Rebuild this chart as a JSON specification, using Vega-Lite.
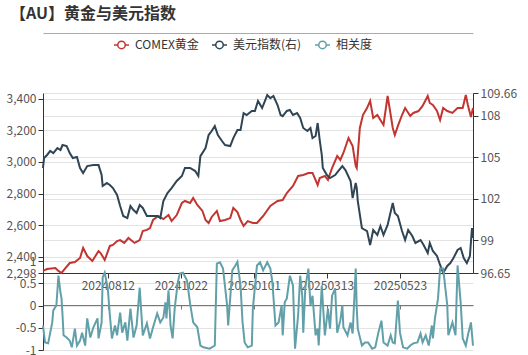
{
 "$schema": "https://vega.github.io/schema/vega-lite/v6.json",
 "autosize": "none",
 "width": 430,
 "height": 257,
 "padding": {"left": 43, "top": 93, "right": 55, "bottom": 5},
 "background": "white",
 "config": {"font": "Noto Sans CJK SC", "view": {"stroke": null}},
 "title": {"text": "【AU】黄金与美元指数", "anchor": "start", "frame": "group", "dx": -33, "offset": 11, "fontSize": 16, "fontWeight": "bold", "color": "#333", "font": "Noto Sans CJK SC"},
 "datasets": {
  "gold": [
   {"d":"2024-06-10","v":2311},{"d":"2024-06-14","v":2323},{"d":"2024-06-22","v":2330},{"d":"2024-06-25","v":2311},{"d":"2024-06-28","v":2298},{"d":"2024-07-02","v":2330},{"d":"2024-07-06","v":2361},{"d":"2024-07-11","v":2367},{"d":"2024-07-16","v":2393},{"d":"2024-07-19","v":2456},{"d":"2024-07-23","v":2405},{"d":"2024-07-28","v":2374},{"d":"2024-08-03","v":2437},{"d":"2024-08-05","v":2424},{"d":"2024-08-09","v":2380},{"d":"2024-08-14","v":2469},{"d":"2024-08-17","v":2475},{"d":"2024-08-21","v":2500},{"d":"2024-08-24","v":2506},{"d":"2024-08-28","v":2488},{"d":"2024-09-01","v":2519},{"d":"2024-09-07","v":2488},{"d":"2024-09-12","v":2506},{"d":"2024-09-15","v":2563},{"d":"2024-09-19","v":2570},{"d":"2024-09-22","v":2582},{"d":"2024-09-25","v":2633},{"d":"2024-09-30","v":2658},{"d":"2024-10-05","v":2639},{"d":"2024-10-10","v":2664},{"d":"2024-10-13","v":2626},{"d":"2024-10-18","v":2664},{"d":"2024-10-23","v":2740},{"d":"2024-10-26","v":2753},{"d":"2024-10-31","v":2740},{"d":"2024-11-03","v":2772},{"d":"2024-11-07","v":2728},{"d":"2024-11-12","v":2690},{"d":"2024-11-15","v":2633},{"d":"2024-11-18","v":2614},{"d":"2024-11-21","v":2652},{"d":"2024-11-26","v":2690},{"d":"2024-11-29","v":2626},{"d":"2024-12-04","v":2633},{"d":"2024-12-09","v":2645},{"d":"2024-12-12","v":2709},{"d":"2024-12-16","v":2683},{"d":"2024-12-19","v":2633},{"d":"2024-12-22","v":2595},{"d":"2024-12-26","v":2626},{"d":"2024-12-31","v":2614},{"d":"2025-01-04","v":2614},{"d":"2025-01-10","v":2658},{"d":"2025-01-17","v":2721},{"d":"2025-01-24","v":2753},{"d":"2025-01-29","v":2759},{"d":"2025-02-02","v":2803},{"d":"2025-02-08","v":2848},{"d":"2025-02-13","v":2911},{"d":"2025-02-18","v":2917},{"d":"2025-02-23","v":2930},{"d":"2025-02-27","v":2930},{"d":"2025-03-04","v":2854},{"d":"2025-03-06","v":2898},{"d":"2025-03-11","v":2911},{"d":"2025-03-14","v":2886},{"d":"2025-03-18","v":2961},{"d":"2025-03-23","v":3037},{"d":"2025-03-26","v":3012},{"d":"2025-03-29","v":3056},{"d":"2025-04-03","v":3151},{"d":"2025-04-07","v":3100},{"d":"2025-04-10","v":2974},{"d":"2025-04-11","v":2961},{"d":"2025-04-14","v":3214},{"d":"2025-04-17","v":3296},{"d":"2025-04-21","v":3340},{"d":"2025-04-24","v":3385},{"d":"2025-04-27","v":3277},{"d":"2025-05-01","v":3296},{"d":"2025-05-04","v":3264},{"d":"2025-05-07","v":3233},{"d":"2025-05-11","v":3416},{"d":"2025-05-14","v":3296},{"d":"2025-05-16","v":3214},{"d":"2025-05-18","v":3170},{"d":"2025-05-21","v":3227},{"d":"2025-05-25","v":3296},{"d":"2025-05-28","v":3340},{"d":"2025-06-02","v":3290},{"d":"2025-06-05","v":3309},{"d":"2025-06-10","v":3321},{"d":"2025-06-14","v":3353},{"d":"2025-06-19","v":3416},{"d":"2025-06-21","v":3372},{"d":"2025-06-24","v":3359},{"d":"2025-06-28","v":3321},{"d":"2025-07-01","v":3264},{"d":"2025-07-04","v":3340},{"d":"2025-07-08","v":3321},{"d":"2025-07-13","v":3309},{"d":"2025-07-18","v":3340},{"d":"2025-07-23","v":3340},{"d":"2025-07-26","v":3422},{"d":"2025-07-28","v":3359},{"d":"2025-07-31","v":3283},{"d":"2025-08-02","v":3340}
  ],
  "dxy": [
   {"d":"2024-06-10","v":104.24},{"d":"2024-06-11","v":104.96},{"d":"2024-06-14","v":105.18},{"d":"2024-06-17","v":105.47},{"d":"2024-06-20","v":105.32},{"d":"2024-06-24","v":105.68},{"d":"2024-06-27","v":105.54},{"d":"2024-06-29","v":105.9},{"d":"2024-07-03","v":105.83},{"d":"2024-07-06","v":105.32},{"d":"2024-07-09","v":104.96},{"d":"2024-07-13","v":105.03},{"d":"2024-07-16","v":104.24},{"d":"2024-07-19","v":103.88},{"d":"2024-07-23","v":104.38},{"d":"2024-07-29","v":104.45},{"d":"2024-08-03","v":104.45},{"d":"2024-08-06","v":103.73},{"d":"2024-08-07","v":102.94},{"d":"2024-08-11","v":103.15},{"d":"2024-08-14","v":103.01},{"d":"2024-08-17","v":102.79},{"d":"2024-08-21","v":102.29},{"d":"2024-08-24","v":101.49},{"d":"2024-08-27","v":100.77},{"d":"2024-08-31","v":100.62},{"d":"2024-09-03","v":101.49},{"d":"2024-09-06","v":101.2},{"d":"2024-09-09","v":100.99},{"d":"2024-09-12","v":101.56},{"d":"2024-09-15","v":101.35},{"d":"2024-09-19","v":100.77},{"d":"2024-09-24","v":100.77},{"d":"2024-09-29","v":100.77},{"d":"2024-10-02","v":100.62},{"d":"2024-10-05","v":101.85},{"d":"2024-10-09","v":102.43},{"d":"2024-10-13","v":102.79},{"d":"2024-10-18","v":103.3},{"d":"2024-10-23","v":103.66},{"d":"2024-10-26","v":104.24},{"d":"2024-10-31","v":104.24},{"d":"2024-11-05","v":104.02},{"d":"2024-11-08","v":103.66},{"d":"2024-11-10","v":105.1},{"d":"2024-11-15","v":105.68},{"d":"2024-11-18","v":106.62},{"d":"2024-11-21","v":106.91},{"d":"2024-11-24","v":107.27},{"d":"2024-11-27","v":106.62},{"d":"2024-12-01","v":106.19},{"d":"2024-12-04","v":105.9},{"d":"2024-12-09","v":105.83},{"d":"2024-12-12","v":106.4},{"d":"2024-12-16","v":106.98},{"d":"2024-12-19","v":106.98},{"d":"2024-12-22","v":108.21},{"d":"2024-12-25","v":108.07},{"d":"2024-12-30","v":108.36},{"d":"2025-01-02","v":108.36},{"d":"2025-01-05","v":109.08},{"d":"2025-01-09","v":108.57},{"d":"2025-01-14","v":109.51},{"d":"2025-01-17","v":109.29},{"d":"2025-01-20","v":109.44},{"d":"2025-01-24","v":108.79},{"d":"2025-01-27","v":108.07},{"d":"2025-01-29","v":107.99},{"d":"2025-02-02","v":108.36},{"d":"2025-02-05","v":108.43},{"d":"2025-02-08","v":108.07},{"d":"2025-02-12","v":108.21},{"d":"2025-02-15","v":107.85},{"d":"2025-02-18","v":107.13},{"d":"2025-02-22","v":106.91},{"d":"2025-02-25","v":107.13},{"d":"2025-02-27","v":106.4},{"d":"2025-03-02","v":106.55},{"d":"2025-03-04","v":107.49},{"d":"2025-03-06","v":106.26},{"d":"2025-03-08","v":105.18},{"d":"2025-03-09","v":104.24},{"d":"2025-03-13","v":103.73},{"d":"2025-03-16","v":103.51},{"d":"2025-03-21","v":103.73},{"d":"2025-03-24","v":104.02},{"d":"2025-03-28","v":104.38},{"d":"2025-03-31","v":104.09},{"d":"2025-04-05","v":103.3},{"d":"2025-04-07","v":102.07},{"d":"2025-04-10","v":103.15},{"d":"2025-04-11","v":102.79},{"d":"2025-04-12","v":101.85},{"d":"2025-04-16","v":99.9},{"d":"2025-04-19","v":99.76},{"d":"2025-04-21","v":99.68},{"d":"2025-04-24","v":98.67},{"d":"2025-04-27","v":99.76},{"d":"2025-05-01","v":99.4},{"d":"2025-05-04","v":100.05},{"d":"2025-05-07","v":99.4},{"d":"2025-05-11","v":100.12},{"d":"2025-05-16","v":101.71},{"d":"2025-05-18","v":100.99},{"d":"2025-05-21","v":100.77},{"d":"2025-05-25","v":99.68},{"d":"2025-05-28","v":99.03},{"d":"2025-05-31","v":99.76},{"d":"2025-06-04","v":99.32},{"d":"2025-06-07","v":98.82},{"d":"2025-06-12","v":99.03},{"d":"2025-06-15","v":98.67},{"d":"2025-06-19","v":98.1},{"d":"2025-06-21","v":98.82},{"d":"2025-06-24","v":98.24},{"d":"2025-06-28","v":97.88},{"d":"2025-07-01","v":97.23},{"d":"2025-07-04","v":96.65},{"d":"2025-07-08","v":97.16},{"d":"2025-07-11","v":97.37},{"d":"2025-07-14","v":97.73},{"d":"2025-07-18","v":98.31},{"d":"2025-07-21","v":98.46},{"d":"2025-07-24","v":97.73},{"d":"2025-07-27","v":97.37},{"d":"2025-07-30","v":97.88},{"d":"2025-08-01","v":99.9},{"d":"2025-08-02","v":99.18}
  ],
  "corr": [
   {"d":"2024-06-10","v":-0.45},{"d":"2024-06-12","v":-0.83},{"d":"2024-06-15","v":-0.85},{"d":"2024-06-19","v":-0.38},{"d":"2024-06-20","v":-0.11},{"d":"2024-06-23","v":0.0},{"d":"2024-06-25","v":0.67},{"d":"2024-06-27","v":0.29},{"d":"2024-06-28","v":0.16},{"d":"2024-06-29","v":-0.22},{"d":"2024-06-30","v":-0.67},{"d":"2024-07-03","v":-0.72},{"d":"2024-07-06","v":-0.79},{"d":"2024-07-08","v":-0.94},{"d":"2024-07-11","v":-0.52},{"d":"2024-07-13","v":-0.9},{"d":"2024-07-16","v":-0.79},{"d":"2024-07-18","v":-0.61},{"d":"2024-07-21","v":-0.9},{"d":"2024-07-23","v":-0.29},{"d":"2024-07-26","v":-0.72},{"d":"2024-07-29","v":-0.49},{"d":"2024-08-02","v":-0.29},{"d":"2024-08-03","v":-0.74},{"d":"2024-08-06","v":-0.38},{"d":"2024-08-07","v":0.63},{"d":"2024-08-09","v":0.74},{"d":"2024-08-12","v":0.38},{"d":"2024-08-14","v":-0.22},{"d":"2024-08-16","v":-0.74},{"d":"2024-08-19","v":-0.45},{"d":"2024-08-21","v":-0.67},{"d":"2024-08-24","v":-0.16},{"d":"2024-08-26","v":-0.61},{"d":"2024-08-29","v":-0.38},{"d":"2024-08-31","v":-0.79},{"d":"2024-09-03","v":-0.07},{"d":"2024-09-06","v":-0.72},{"d":"2024-09-09","v":-0.45},{"d":"2024-09-12","v":0.4},{"d":"2024-09-15","v":-0.67},{"d":"2024-09-19","v":-0.4},{"d":"2024-09-22","v":-0.74},{"d":"2024-09-25","v":-0.49},{"d":"2024-09-29","v":-0.18},{"d":"2024-10-02","v":-0.38},{"d":"2024-10-05","v":-0.27},{"d":"2024-10-07","v":0.07},{"d":"2024-10-08","v":-0.29},{"d":"2024-10-10","v":0.34},{"d":"2024-10-12","v":-0.45},{"d":"2024-10-14","v":-0.74},{"d":"2024-10-16","v":-0.07},{"d":"2024-10-19","v":0.52},{"d":"2024-10-21","v":0.72},{"d":"2024-10-24","v":0.74},{"d":"2024-10-28","v":0.56},{"d":"2024-10-31","v":0.04},{"d":"2024-11-03","v":-0.38},{"d":"2024-11-07","v":-0.49},{"d":"2024-11-10","v":-0.9},{"d":"2024-11-13","v":-0.94},{"d":"2024-11-19","v":-0.97},{"d":"2024-11-24","v":-0.9},{"d":"2024-11-26","v":0.94},{"d":"2024-11-29","v":0.97},{"d":"2024-12-02","v":0.83},{"d":"2024-12-06","v":0.0},{"d":"2024-12-07","v":-0.45},{"d":"2024-12-11","v":0.79},{"d":"2024-12-14","v":0.9},{"d":"2024-12-16","v":0.98},{"d":"2024-12-19","v":0.45},{"d":"2024-12-21","v":-0.38},{"d":"2024-12-23","v":-0.83},{"d":"2024-12-26","v":-0.94},{"d":"2024-12-30","v":-0.9},{"d":"2024-12-31","v":-0.07},{"d":"2025-01-04","v":0.9},{"d":"2025-01-07","v":0.97},{"d":"2025-01-10","v":0.79},{"d":"2025-01-14","v":0.97},{"d":"2025-01-17","v":0.83},{"d":"2025-01-19","v":0.52},{"d":"2025-01-22","v":-0.45},{"d":"2025-01-25","v":-0.38},{"d":"2025-01-28","v":0.0},{"d":"2025-01-29","v":-0.67},{"d":"2025-01-31","v":0.07},{"d":"2025-02-02","v":0.16},{"d":"2025-02-05","v":0.67},{"d":"2025-02-08","v":0.45},{"d":"2025-02-10","v":-0.97},{"d":"2025-02-13","v":-0.22},{"d":"2025-02-15","v":0.67},{"d":"2025-02-17","v":0.22},{"d":"2025-02-18","v":-0.61},{"d":"2025-02-20","v":0.4},{"d":"2025-02-23","v":0.83},{"d":"2025-02-25","v":0.0},{"d":"2025-02-27","v":0.22},{"d":"2025-03-02","v":-0.67},{"d":"2025-03-04","v":-0.52},{"d":"2025-03-05","v":-0.9},{"d":"2025-03-08","v":0.45},{"d":"2025-03-11","v":-0.67},{"d":"2025-03-14","v":-0.07},{"d":"2025-03-16","v":-0.52},{"d":"2025-03-18","v":0.22},{"d":"2025-03-21","v":0.38},{"d":"2025-03-23","v":-0.61},{"d":"2025-03-26","v":-0.34},{"d":"2025-03-28","v":0.0},{"d":"2025-03-29","v":-0.49},{"d":"2025-04-02","v":-0.67},{"d":"2025-04-05","v":-0.38},{"d":"2025-04-07","v":-0.63},{"d":"2025-04-10","v":0.83},{"d":"2025-04-11","v":-0.07},{"d":"2025-04-12","v":-0.52},{"d":"2025-04-16","v":-0.9},{"d":"2025-04-19","v":-0.83},{"d":"2025-04-22","v":-0.83},{"d":"2025-04-26","v":-0.97},{"d":"2025-04-29","v":-0.94},{"d":"2025-05-02","v":-0.61},{"d":"2025-05-05","v":-0.34},{"d":"2025-05-07","v":-0.83},{"d":"2025-05-11","v":-0.9},{"d":"2025-05-14","v":-0.67},{"d":"2025-05-16","v":-0.83},{"d":"2025-05-18","v":-0.85},{"d":"2025-05-21","v":0.11},{"d":"2025-05-23","v":-0.61},{"d":"2025-05-26","v":-0.94},{"d":"2025-05-30","v":-0.97},{"d":"2025-06-02","v":-0.9},{"d":"2025-06-05","v":-0.85},{"d":"2025-06-09","v":-0.83},{"d":"2025-06-12","v":-0.63},{"d":"2025-06-14","v":-0.83},{"d":"2025-06-17","v":-0.67},{"d":"2025-06-20","v":-0.9},{"d":"2025-06-23","v":-0.45},{"d":"2025-06-24","v":-0.74},{"d":"2025-06-26","v":-0.29},{"d":"2025-06-29","v":0.16},{"d":"2025-07-01","v":0.83},{"d":"2025-07-04","v":0.83},{"d":"2025-07-08","v":0.0},{"d":"2025-07-09","v":-0.67},{"d":"2025-07-13","v":-0.38},{"d":"2025-07-16","v":-0.67},{"d":"2025-07-18","v":0.9},{"d":"2025-07-21","v":0.07},{"d":"2025-07-23","v":-0.74},{"d":"2025-07-26","v":-0.9},{"d":"2025-07-28","v":-0.67},{"d":"2025-07-31","v":-0.38},{"d":"2025-08-02","v":-0.9}
  ]
 },
 "layer": [
  {
   "data": {"name": "gold"},
   "mark": {"type": "line", "strokeWidth": 2},
   "encoding": {
    "x": {"field": "d", "type": "temporal",
     "scale": {"domain": [{"year":2024,"month":6,"date":10,"utc":true},{"year":2025,"month":8,"date":2,"utc":true}]},
     "axis": {"orient": "bottom", "offset": -77, "title": null, "grid": false,
      "values": [{"year":2024,"month":8,"date":12,"utc":true},{"year":2024,"month":10,"date":22,"utc":true},{"year":2025,"month":1,"date":1,"utc":true},{"year":2025,"month":3,"date":13,"utc":true},{"year":2025,"month":5,"date":23,"utc":true}],
      "labelExpr": "utcFormat(datum.value, '%Y%m%d')", "tickSize": 5, "domainColor": "#333", "tickColor": "#333", "labelColor": "#555", "labelFontSize": 12, "labelPadding": 2, "labelFlush": false}},
    "y": {"field": "v", "type": "quantitative",
     "scale": {"domain": [2298, 3435], "range": [180, 0], "nice": false, "zero": false},
     "axis": {"orient": "left", "title": null, "values": [2298, 2400, 2600, 2800, 3000, 3200, 3400], "format": ",.0f", "grid": true, "gridColor": "#e3e3e3", "tickSize": 5, "domainColor": "#333", "tickColor": "#333", "labelColor": "#555", "labelFontSize": 12, "labelPadding": 2}},
    "color": {"datum": "COMEX黄金", "type": "nominal",
     "scale": {"domain": ["COMEX黄金", "美元指数(右)", "相关度"], "range": ["#c23531", "#2f4554", "#61a0a8"]},
     "legend": {"orient": "none", "legendX": 70, "legendY": -57, "direction": "horizontal", "title": null,
      "symbolType": "M-1,0L-0.5,0M0.5,0L1,0M0.5,0A0.5,0.5,0,1,1,-0.5,0A0.5,0.5,0,1,1,0.5,0",
      "symbolSize": 225, "symbolStrokeWidth": 1.5, "labelFontSize": 12, "labelColor": "#333", "columnPadding": 10, "labelOffset": 5}}
   }
  },
  {
   "data": {"name": "dxy"},
   "mark": {"type": "line", "strokeWidth": 2},
   "encoding": {
    "x": {"field": "d", "type": "temporal",
     "axis": {"orient": "top", "offset": 60, "title": null, "grid": false, "labels": false, "ticks": false, "domainColor": "#aaa", "domainWidth": 1}},
    "y": {"field": "v", "type": "quantitative",
     "scale": {"domain": [96.65, 109.66], "range": [180, 0], "nice": false, "zero": false},
     "axis": {"orient": "right", "title": null, "values": [96.65, 99, 102, 105, 108, 109.66], "labelExpr": "datum.value + ''", "grid": true, "gridColor": "#e3e3e3", "tickSize": 5, "domainColor": "#333", "tickColor": "#333", "labelColor": "#555", "labelFontSize": 12, "labelPadding": 2}},
    "color": {"datum": "美元指数(右)", "type": "nominal"}
   }
  },
  {
   "data": {"name": "corr"},
   "mark": {"type": "line", "strokeWidth": 2},
   "encoding": {
    "x": {"field": "d", "type": "temporal",
     "axis": {"orient": "bottom", "offset": -45, "title": null, "grid": false, "labels": false,
      "values": [{"year":2024,"month":8,"date":12,"utc":true},{"year":2024,"month":10,"date":22,"utc":true},{"year":2025,"month":1,"date":1,"utc":true},{"year":2025,"month":3,"date":13,"utc":true},{"year":2025,"month":5,"date":23,"utc":true}],
      "tickSize": 4, "domainColor": "#777", "tickColor": "#777"}},
    "y": {"field": "v", "type": "quantitative",
     "scale": {"domain": [-1, 1], "range": [257, 168], "nice": false, "zero": false},
     "axis": {"orient": "left", "title": null, "values": [-1, -0.5, 0, 0.5, 1], "labelExpr": "datum.value + ''", "grid": true, "gridColor": "#e3e3e3", "tickSize": 5, "domainColor": "#333", "tickColor": "#333", "labelColor": "#555", "labelFontSize": 12, "labelPadding": 2}},
    "color": {"datum": "相关度", "type": "nominal"}
   }
  }
 ],
 "resolve": {"scale": {"y": "independent"}, "axis": {"y": "independent", "x": "independent"}}
}
